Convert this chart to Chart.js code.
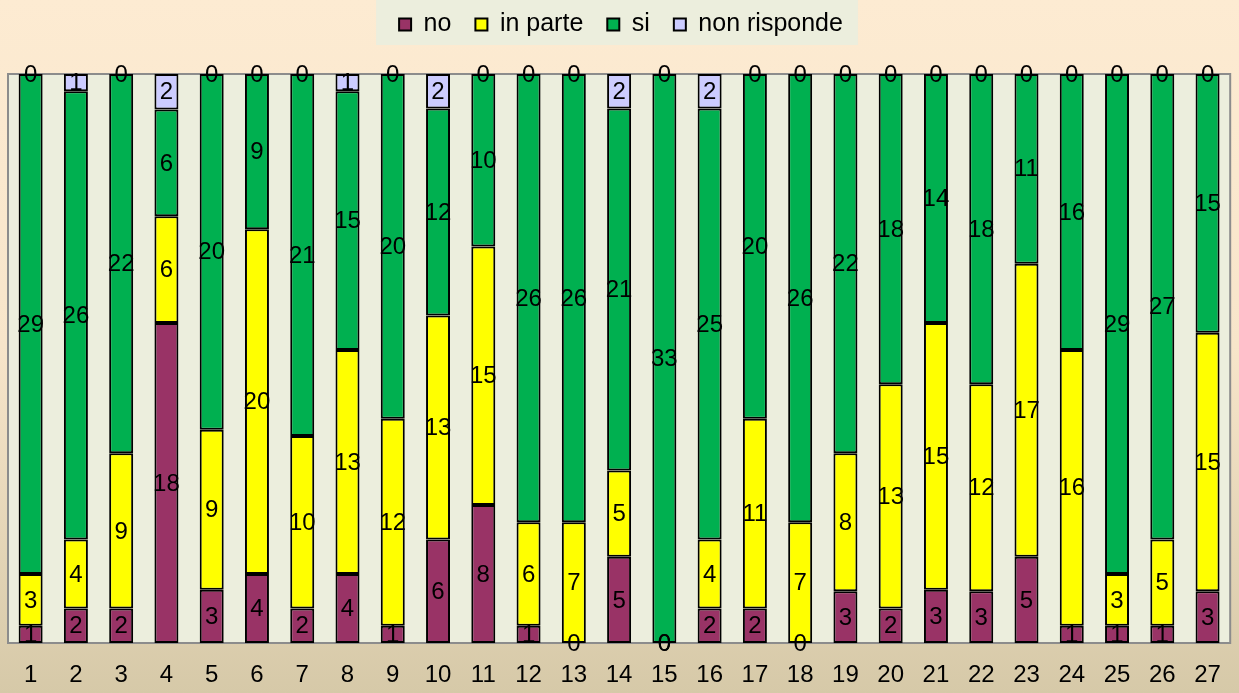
<!DOCTYPE html>
<html>
<head>
<meta charset="utf-8">
<script src="https://cdn.jsdelivr.net/npm/chart.js@4.4.0/dist/chart.umd.min.js"></script>
<style>
  html, body { margin: 0; padding: 0; }
  body {
    width: 1239px; height: 693px; overflow: hidden;
    background: linear-gradient(to bottom, #fdebd2 0%, #f7e5ca 50%, #d6c9a8 100%);
  }
  #wrap { position: relative; width: 1239px; height: 693px; }
</style>
</head>
<body>
<div id="wrap"><canvas id="chart" width="1239" height="693"></canvas></div>
<script>
// Data
const categories = ['1','2','3','4','5','6','7','8','9','10','11','12','13','14','15','16','17','18','19','20','21','22','23','24','25','26','27'];
const noValues      = [1, 2, 2, 18, 3, 4, 2, 4, 1, 6, 8, 1, 0, 5, 0, 2, 2, 0, 3, 2, 3, 3, 5, 1, 1, 1, 3];
const inParteValues = [3, 4, 9, 6, 9, 20, 10, 13, 12, 13, 15, 6, 7, 5, 0, 4, 11, 7, 8, 13, 15, 12, 17, 16, 3, 5, 15];
const siValues      = [29, 26, 22, 6, 20, 9, 21, 15, 20, 12, 10, 26, 26, 21, 33, 25, 20, 26, 22, 18, 14, 18, 11, 16, 29, 27, 15];
const nonRispValues = [0, 1, 0, 2, 0, 0, 0, 1, 0, 2, 0, 0, 0, 2, 0, 2, 0, 0, 0, 0, 0, 0, 0, 0, 0, 0, 0];

const seriesNames = ['no', 'in parte', 'si', 'non risponde'];
const seriesColors = ['#993366', '#ffff00', '#00b050', '#ccccff'];
const rawSeries = [noValues, inParteValues, siValues, nonRispValues];

// 100% stacked: convert counts to share of each bar
const totals = categories.map((c, i) => rawSeries.reduce((s, arr) => s + arr[i], 0));
const pct = arr => arr.map((v, i) => totals[i] ? v / totals[i] * 100 : 0);

const FONT = '"Liberation Sans", Arial, sans-serif';

// extra room under the legend
const legendSpace = {
    id: 'legendSpace',
    beforeInit(chart) {
        const orig = chart.legend.fit;
        chart.legend.fit = function () {
            orig.call(this);
            this.height += 27;
        };
    }
};

// plot area background + border
const plotBg = {
    id: 'plotBg',
    beforeDatasetsDraw(chart) {
        const { ctx, chartArea: a } = chart;
        ctx.save();
        ctx.fillStyle = '#eceedd';
        ctx.fillRect(a.left, a.top, a.right - a.left, a.bottom - a.top);
        ctx.strokeStyle = '#8c8c8c';
        ctx.lineWidth = 2;
        ctx.strokeRect(a.left, a.top, a.right - a.left, a.bottom - a.top);
        ctx.restore();
    }
};

// legend background box
const legendBg = {
    id: 'legendBg',
    beforeDraw(chart) {
        const boxes = chart.legend && chart.legend.legendHitBoxes;
        if (!boxes || !boxes.length) return;
        const left = Math.min(...boxes.map(b => b.left)) - 23;
        const right = Math.max(...boxes.map(b => b.left + b.width)) + 15;
        const { ctx } = chart;
        ctx.save();
        ctx.fillStyle = '#eceedd';
        ctx.fillRect(left, 0, right - left, 45);
        ctx.restore();
    }
};

// value labels centred in each segment
const valueLabels = {
    id: 'valueLabels',
    afterDatasetsDraw(chart) {
        const { ctx } = chart;
        ctx.save();
        ctx.font = '24px ' + FONT;
        ctx.fillStyle = '#000';
        ctx.textAlign = 'center';
        ctx.textBaseline = 'middle';
        chart.data.datasets.forEach((ds, di) => {
            const meta = chart.getDatasetMeta(di);
            meta.data.forEach((el, i) => {
                const y = (el.y + el.base) / 2;
                ctx.fillText(String(rawSeries[di][i]), el.x, y + 1);
            });
        });
        ctx.restore();
    }
};

new Chart(document.getElementById('chart'), {
    type: 'bar',
    data: {
        labels: categories,
        datasets: seriesNames.map((name, k) => ({
            label: name,
            data: pct(rawSeries[k]),
            backgroundColor: seriesColors[k],
            borderColor: '#000',
            borderWidth: 2,
            borderSkipped: false,
            barPercentage: 0.53,
            categoryPercentage: 1
        }))
    },
    options: {
        responsive: false,
        animation: false,
        layout: { padding: { left: 8, right: 5, top: -12, bottom: 0 } },
        plugins: {
            legend: {
                position: 'top',
                labels: {
                    font: { family: FONT, size: 25 },
                    color: '#000',
                    boxWidth: 12,
                    boxHeight: 12,
                    padding: 24,
                    generateLabels(chart) {
                        return chart.data.datasets.map((ds, i) => ({
                            text: ds.label,
                            fillStyle: ds.backgroundColor,
                            strokeStyle: '#000',
                            lineWidth: 2,
                            datasetIndex: i
                        }));
                    }
                }
            },
            tooltip: { enabled: false }
        },
        scales: {
            x: {
                stacked: true,
                grid: { display: false, drawTicks: false },
                border: { display: false },
                ticks: { color: '#000', font: { family: FONT, size: 24 }, padding: 18, maxRotation: 0, autoSkip: false },
                afterFit(scale) { scale.height = 50; }
            },
            y: {
                stacked: true,
                display: false,
                min: 0,
                max: 100
            }
        }
    },
    plugins: [legendSpace, legendBg, plotBg, valueLabels]
});
</script>
</body>
</html>
